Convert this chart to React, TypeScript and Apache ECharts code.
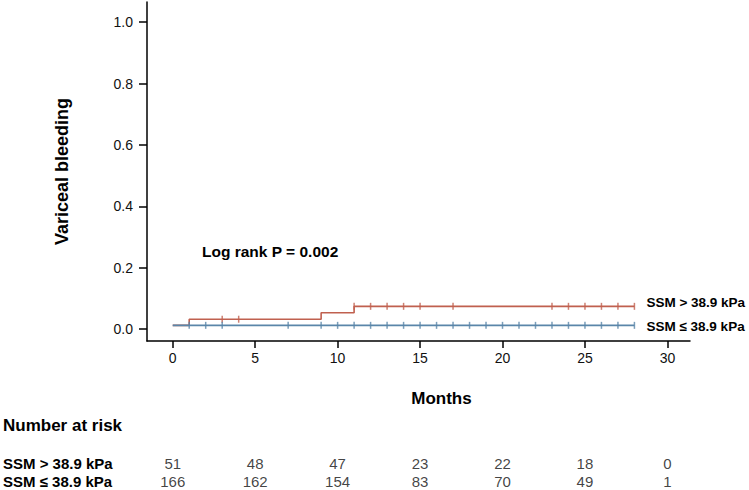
import React, { useEffect, useRef } from "react";
import * as echarts from "echarts";

const xTicks = [0, 5, 10, 15, 20, 25, 30];
const yTicks = [0, 0.2, 0.4, 0.6, 0.8, 1.0];

const groupNames = ["SSM > 38.9 kPa", "SSM ≤ 38.9 kPa"];

// Kaplan–Meier style step curves [month, cumulative incidence]
const highCurve: [number, number][] = [
  [0, 0.012],
  [1, 0.032],
  [9, 0.053],
  [11, 0.074],
  [28, 0.074],
];
const lowCurve: [number, number][] = [
  [0, 0.012],
  [28, 0.012],
];

// censoring times
const highCensor = [3, 4, 11, 12, 13, 14, 15, 17, 23, 24, 25, 26, 27, 28];
const lowCensor = [1, 2, 3, 7, 9, 10, 11, 12, 13, 14, 15, 16, 17, 18, 19, 20, 21, 22, 23, 24, 25, 26, 27, 28];

// number at risk
const riskTimes = [0, 5, 10, 15, 20, 25, 30];
const riskHigh = [51, 48, 47, 23, 22, 18, 0];
const riskLow = [166, 162, 154, 83, 70, 49, 1];

const RED = "#c0604f";
const BLUE = "#5a86a9";
const FONT = "Liberation Sans";
const X_MIN = -1.56;
const X_MAX = 31.37;

function stepValue(curve: [number, number][], t: number): number {
  let v = curve[0][1];
  for (const [x, y] of curve) {
    if (x <= t) v = y;
  }
  return v;
}

export default function App() {
  const ref = useRef<HTMLDivElement>(null);

  useEffect(() => {
    if (!ref.current) return;
    const chart = echarts.init(ref.current, undefined, { renderer: "svg" });
    const option: any = {
      animation: false,
      textStyle: { fontFamily: FONT },
      grid: [
        { left: 147, top: 2, width: 543, height: 339 },
        { left: 147, top: 454, width: 543, height: 37 },
      ],
      xAxis: [
        {
          type: "value",
          gridIndex: 0,
          min: X_MIN,
          max: X_MAX,
          axisLine: { show: true, onZero: false, lineStyle: { color: "#000", width: 1.5 } },
          axisTick: { show: true, length: 7, customValues: xTicks, lineStyle: { color: "#000", width: 1.5 } },
          axisLabel: { customValues: xTicks, fontSize: 14, color: "#111", margin: 10, fontFamily: FONT },
          splitLine: { show: false },
        },
        { type: "value", gridIndex: 1, min: X_MIN, max: X_MAX, show: false },
      ],
      yAxis: [
        {
          type: "value",
          gridIndex: 0,
          min: -0.039,
          max: 1.066,
          axisLine: { show: true, onZero: false, lineStyle: { color: "#000", width: 1.5 } },
          axisTick: { show: true, length: 8, customValues: yTicks, lineStyle: { color: "#000", width: 1.5 } },
          axisLabel: {
            customValues: yTicks,
            fontSize: 14,
            color: "#111",
            margin: 14,
            fontFamily: FONT,
            formatter: (v: number) => v.toFixed(1),
          },
          splitLine: { show: false },
          name: "Variceal bleeding",
          nameLocation: "middle",
          nameGap: 76,
          nameTextStyle: { fontSize: 18, fontWeight: "bold", color: "#000", fontFamily: FONT },
        },
        {
          type: "category",
          gridIndex: 1,
          data: groupNames,
          inverse: true,
          axisLine: { show: false },
          axisTick: { show: false },
          axisLabel: {
            interval: 0,
            align: "left",
            margin: 144,
            fontSize: 15,
            fontWeight: "bold",
            color: "#000",
            fontFamily: FONT,
          },
        },
      ],
      series: [
        {
          type: "line",
          name: groupNames[0],
          data: highCurve,
          step: "end",
          symbol: "none",
          lineStyle: { color: RED, width: 1.6 },
          endLabel: {
            show: true,
            formatter: groupNames[0],
            distance: 12,
            offset: [0, -4],
            fontSize: 13.5,
            fontWeight: "bold",
            color: "#000",
            fontFamily: FONT,
          },
        },
        {
          type: "line",
          name: groupNames[1],
          data: lowCurve,
          step: "end",
          symbol: "none",
          lineStyle: { color: BLUE, width: 1.6 },
          endLabel: {
            show: true,
            formatter: groupNames[1],
            distance: 12,
            offset: [0, 1],
            fontSize: 13.5,
            fontWeight: "bold",
            color: "#000",
            fontFamily: FONT,
          },
        },
        {
          type: "scatter",
          data: highCensor.map((t) => [t, stepValue(highCurve, t)]),
          symbol: "rect",
          symbolSize: [1.5, 7],
          itemStyle: { color: RED },
          z: 3,
        },
        {
          type: "scatter",
          data: lowCensor.map((t) => [t, stepValue(lowCurve, t)]),
          symbol: "rect",
          symbolSize: [1.5, 7],
          itemStyle: { color: BLUE },
          z: 3,
        },
        {
          type: "scatter",
          xAxisIndex: 1,
          yAxisIndex: 1,
          data: [
            ...riskTimes.map((t, i) => [t, 0, riskHigh[i]]),
            ...riskTimes.map((t, i) => [t, 1, riskLow[i]]),
          ],
          symbolSize: 1,
          itemStyle: { color: "rgba(0,0,0,0)" },
          label: {
            show: true,
            position: "inside",
            formatter: (p: any) => String(p.value[2]),
            fontSize: 15,
            color: "#111",
            fontFamily: FONT,
          },
        },
      ],
      graphic: [
        {
          type: "text",
          left: 202,
          top: 243,
          style: { text: "Log rank P = 0.002", fontSize: 15.5, fontWeight: "bold", fill: "#000", fontFamily: FONT },
        },
        {
          type: "text",
          x: 441.5,
          y: 398,
          style: {
            text: "Months",
            fontSize: 17,
            fontWeight: "bold",
            fill: "#000",
            fontFamily: FONT,
            align: "center",
            verticalAlign: "middle",
          },
        },
        {
          type: "text",
          x: 3,
          y: 425,
          style: {
            text: "Number at risk",
            fontSize: 17,
            fontWeight: "bold",
            fill: "#000",
            fontFamily: FONT,
            verticalAlign: "middle",
          },
        },
      ],
    };
    chart.setOption(option);
    return () => chart.dispose();
  }, []);

  return <div ref={ref} style={{ position: "absolute", left: 0, top: 0, width: 749, height: 490 }} />;
}
